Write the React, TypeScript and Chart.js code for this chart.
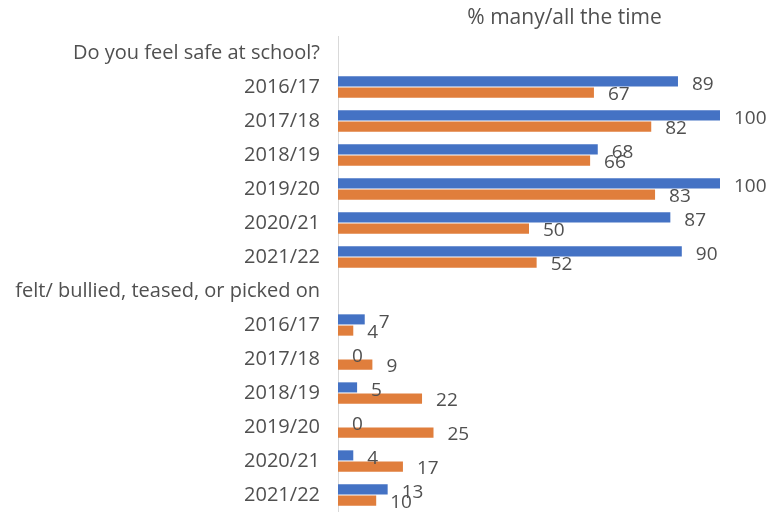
import React, { useEffect, useRef } from "react";
import { Chart, registerables } from "chart.js";

Chart.register(...registerables);

const categories = [
  "Do you feel safe at school?",
  "2016/17",
  "2017/18",
  "2018/19",
  "2019/20",
  "2020/21",
  "2021/22",
  "felt/ bullied, teased, or picked on",
  "2016/17",
  "2017/18",
  "2018/19",
  "2019/20",
  "2020/21",
  "2021/22",
];

const seriesA: (number | null)[] = [null, 89, 100, 68, 100, 87, 90, null, 7, 0, 5, 0, 4, 13];
const seriesB: (number | null)[] = [null, 67, 82, 66, 83, 50, 52, null, 4, 9, 22, 25, 17, 10];

const titleText = "% many/all the time";
const FONT = "'Open Sans', sans-serif";
const TEXT_COLOR = "#505050";

const labelPlugin = {
  id: "barLabels",
  afterDatasetsDraw(chart: any) {
    const ctx = chart.ctx;
    ctx.save();
    ctx.font = `19px ${FONT}`;
    ctx.fillStyle = TEXT_COLOR;
    ctx.textBaseline = "middle";
    ctx.textAlign = "left";
    chart.data.datasets.forEach((ds: any, di: number) => {
      const meta = chart.getDatasetMeta(di);
      meta.data.forEach((bar: any, i: number) => {
        const v = ds.data[i];
        if (v === null || v === undefined) return;
        ctx.fillText(String(v), bar.x + 14, bar.y + (di === 0 ? 3 : 2));
      });
    });
    const ca = chart.chartArea;
    ctx.textAlign = "center";
    ctx.font = `21px ${FONT}`;
    ctx.fillText(titleText, ca.left + (ca.right - ca.left) * 0.593, ca.top - 18);
    ctx.restore();
  },
};

export default function App() {
  const ref = useRef<HTMLCanvasElement>(null);
  useEffect(() => {
    if (!ref.current) return;
    const chart = new Chart(ref.current, {
      type: "bar",
      data: {
        labels: categories,
        datasets: [
          { label: "A", data: seriesA, backgroundColor: "#4472C4", categoryPercentage: 0.66, barPercentage: 0.9 },
          { label: "B", data: seriesB, backgroundColor: "#E07E3C", categoryPercentage: 0.66, barPercentage: 0.9 },
        ],
      },
      options: {
        indexAxis: "y",
        animation: false,
        responsive: false,
        layout: { padding: { top: 36, right: 48, left: 0, bottom: 0 } },
        plugins: {
          legend: { display: false },
          tooltip: { enabled: false },
          title: { display: false },
        },
        scales: {
          x: {
            min: 0,
            max: 100,
            display: false,
          },
          y: {
            grid: { display: false, drawTicks: false },
            border: { display: true, color: "#d9d9d9", width: 1 },
            ticks: {
              color: TEXT_COLOR,
              font: { family: FONT, size: 20 },
              padding: 18,
              autoSkip: false,
            },
            afterFit(scale: any) {
              scale.width = 338;
              scale.paddingTop = 0;
              scale.paddingBottom = 0;
            },
          },
        },
      },
      plugins: [labelPlugin],
    });
    return () => chart.destroy();
  }, []);
  return (
    <div style={{ position: "absolute", left: 0, top: 0, width: 768, height: 512, background: "#fff" }}>
      <canvas ref={ref} width={768} height={512} style={{ display: "block" }} />
    </div>
  );
}
